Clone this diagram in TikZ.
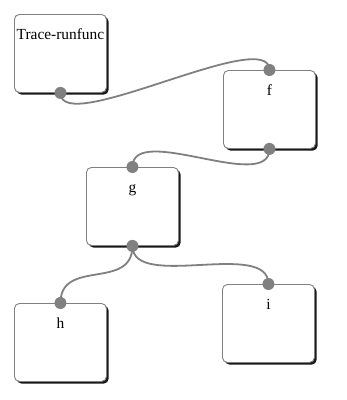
\documentclass[tikz,border=0pt]{standalone}
\usepackage{fontspec}
\setmainfont{Liberation Serif}
\usetikzlibrary{calc,shadows}
\definecolor{wire}{HTML}{808080}
\tikzset{
  fbox/.style={draw=wire, line width=0.9pt, fill=white, rounded corners=5pt,
    minimum width=92pt, minimum height=78pt, inner sep=0pt, anchor=north west,
    drop shadow={shadow xshift=2.2pt, shadow yshift=-2.2pt, fill=black, opacity=0.9}},
  flabel/.style={anchor=base, inner sep=0pt, font=\fontsize{15.4}{18}\selectfont},
  port/.style={circle, fill=wire, minimum size=12pt, inner sep=0pt},
  conn/.style={draw=wire, line width=1.8pt}
}
\begin{document}
\begin{tikzpicture}[x=1pt,y=-1pt]
\useasboundingbox (0,0) rectangle (347,400);
% boxes
\node[fbox] (T) at (14,14) {};
\node[fbox] (F) at (223,70) {};
\node[fbox] (G) at (86,167) {};
\node[fbox] (H) at (14,303) {};
\node[fbox] (I) at (222,284) {};
% labels
\node[flabel] (Tl) at ($(T.north)+(0,25.5)$) {Trace-runfunc};
\node[flabel] (Fl) at ($(F.north)+(0,25.5)$) {f};
\node[flabel] (Gl) at ($(G.north)+(0,25.5)$) {g};
\node[flabel] (Hl) at ($(H.north)+(0,25.5)$) {h};
\node[flabel] (Il) at ($(I.north)+(0,25.5)$) {i};
% connectors
\draw[conn] (T.south) .. controls ($(T.south)+(0,45)$) and ($(F.north)+(0,-45)$) .. (F.north);
\draw[conn] (F.south) .. controls ($(F.south)+(0,45)$) and ($(G.north)+(0,-45)$) .. (G.north);
\draw[conn] (G.south) .. controls ($(G.south)+(0,45)$) and ($(H.north)+(0,-45)$) .. (H.north);
\draw[conn] (G.south) .. controls ($(G.south)+(0,45)$) and ($(I.north)+(0,-45)$) .. (I.north);
% ports
\node[port] (Tp) at (T.south) {};
\node[port] (Fp1) at (F.north) {};
\node[port] (Fp2) at (F.south) {};
\node[port] (Gp1) at (G.north) {};
\node[port] (Gp2) at (G.south) {};
\node[port] (Hp) at (H.north) {};
\node[port] (Ip) at (I.north) {};
\end{tikzpicture}
\end{document}
